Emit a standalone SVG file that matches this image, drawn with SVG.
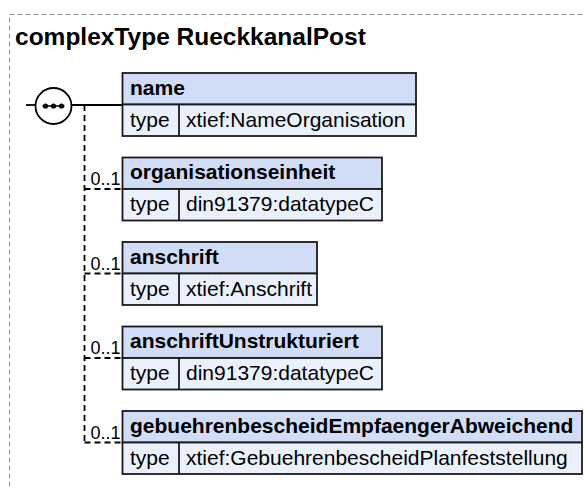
<svg xmlns="http://www.w3.org/2000/svg" width="585" height="488" viewBox="0 0 585 488">
<style>
.hd{fill:#d1ddf6;stroke:#1a1a1a;stroke-width:1.8}
.rw{fill:#eaf1fc;stroke:#1a1a1a;stroke-width:1.8}
.cd{stroke:#1a1a1a;stroke-width:1.8}
.tb{font-family:"Liberation Sans",Arial,sans-serif;font-weight:bold;font-size:21px;fill:#000}
.tr{font-family:"Liberation Sans",Arial,sans-serif;font-size:21px;fill:#000}
.oc{font-family:"Liberation Sans",Arial,sans-serif;font-size:18px;fill:#000}
.dash{stroke:#000;stroke-width:1.8;stroke-dasharray:6,4;fill:none}
</style>
<rect x="9.5" y="14.5" width="620" height="520" fill="none" stroke="#999" stroke-width="1" stroke-dasharray="5,3"/>
<text x="15" y="45" font-family="Liberation Sans, Arial, sans-serif" font-weight="bold" font-size="24.5">complexType RueckkanalPost</text>
<g id="connectors">
<line x1="26" y1="105" x2="35.5" y2="105" stroke="#000" stroke-width="1.8"/>
<line x1="71.5" y1="105" x2="122.5" y2="105" stroke="#000" stroke-width="1.8"/>
<line x1="84.5" y1="105" x2="84.5" y2="442.5" class="dash"/>
<line x1="84.5" y1="189" x2="122.5" y2="189" class="dash"/>
<line x1="84.5" y1="273.5" x2="122.5" y2="273.5" class="dash"/>
<line x1="84.5" y1="358" x2="122.5" y2="358" class="dash"/>
<line x1="84.5" y1="442.5" x2="122.5" y2="442.5" class="dash"/>
<text class="oc" x="90.5" y="185">0..1</text>
<text class="oc" x="90.5" y="269.5">0..1</text>
<text class="oc" x="90.5" y="354">0..1</text>
<text class="oc" x="90.5" y="438.5">0..1</text>
</g>
<g id="sequence">
<circle cx="53.5" cy="106" r="18" fill="#fff" stroke="#000" stroke-width="1.8"/>
<line x1="42.5" y1="106" x2="64.5" y2="106" stroke="#000" stroke-width="1.5"/>
<circle cx="45.5" cy="106" r="2.6" fill="#000"/>
<circle cx="53.5" cy="106" r="2.6" fill="#000"/>
<circle cx="61.5" cy="106" r="2.6" fill="#000"/>
</g>
<g id="name">
<rect class="hd" x="122.5" y="73" width="293.5" height="31.5"/>
<rect class="rw" x="122.5" y="104.5" width="293.5" height="31.5"/>
<line class="cd" x1="179" y1="104.5" x2="179" y2="136"/>
<text class="tb" x="130" y="94.5">name</text>
<text class="tr" x="130" y="126.5">type</text>
<text class="tr" x="186" y="126.5">xtief:NameOrganisation</text>
</g>
<g id="organisationseinheit">
<rect class="hd" x="122.5" y="157.5" width="259.5" height="31.5"/>
<rect class="rw" x="122.5" y="189" width="259.5" height="31.5"/>
<line class="cd" x1="179" y1="189" x2="179" y2="220.5"/>
<text class="tb" x="130" y="179">organisationseinheit</text>
<text class="tr" x="130" y="211">type</text>
<text class="tr" x="186" y="211">din91379:datatypeC</text>
</g>
<g id="anschrift">
<rect class="hd" x="122.5" y="242" width="194.5" height="31.5"/>
<rect class="rw" x="122.5" y="273.5" width="194.5" height="31.5"/>
<line class="cd" x1="179" y1="273.5" x2="179" y2="305"/>
<text class="tb" x="130" y="263.5">anschrift</text>
<text class="tr" x="130" y="295.5">type</text>
<text class="tr" x="186" y="295.5">xtief:Anschrift</text>
</g>
<g id="anschriftUnstrukturiert">
<rect class="hd" x="122.5" y="326.5" width="259.5" height="31.5"/>
<rect class="rw" x="122.5" y="358" width="259.5" height="31.5"/>
<line class="cd" x1="179" y1="358" x2="179" y2="389.5"/>
<text class="tb" x="130" y="348">anschriftUnstrukturiert</text>
<text class="tr" x="130" y="380">type</text>
<text class="tr" x="186" y="380">din91379:datatypeC</text>
</g>
<g id="gebuehrenbescheidEmpfaengerAbweichend">
<rect class="hd" x="122.5" y="411" width="459.5" height="31.5"/>
<rect class="rw" x="122.5" y="442.5" width="459.5" height="31.5"/>
<line class="cd" x1="179" y1="442.5" x2="179" y2="474"/>
<text class="tb" x="130" y="432.5">gebuehrenbescheidEmpfaengerAbweichend</text>
<text class="tr" x="130" y="464.5">type</text>
<text class="tr" x="186" y="464.5">xtief:GebuehrenbescheidPlanfeststellung</text>
</g>
</svg>
